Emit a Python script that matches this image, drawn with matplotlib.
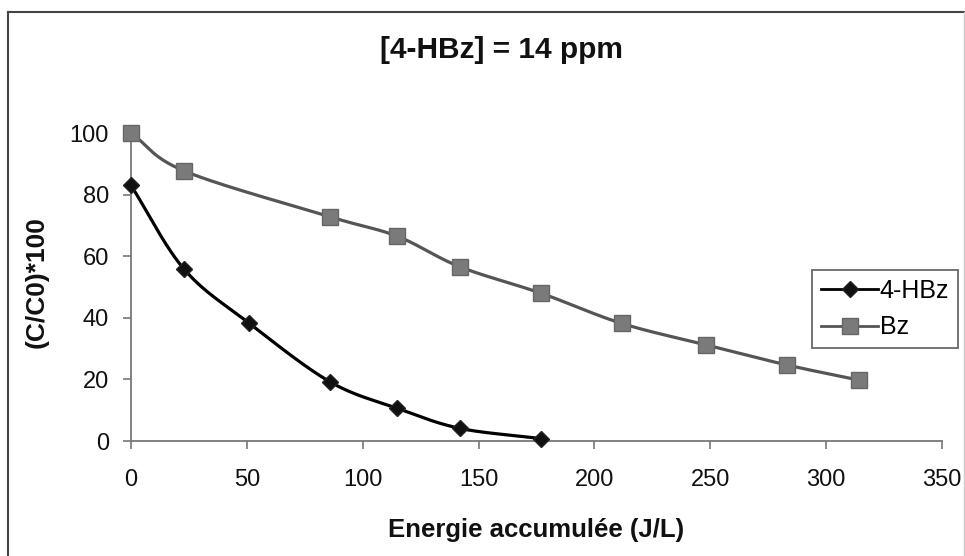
import numpy as np
import matplotlib
matplotlib.use("Agg")
import matplotlib.pyplot as plt
from matplotlib.lines import Line2D

# Data
hbz_x = [0, 22.9, 50.9, 85.9, 115, 142, 177]
hbz_y = [83, 55.8, 38.3, 19.2, 10.6, 4.1, 0.8]
bz_x = [0, 22.9, 85.9, 114.8, 141.8, 176.9, 211.7, 248.2, 283, 314]
bz_y = [100, 87.7, 72.8, 66.5, 56.6, 48, 38.2, 31.2, 24.7, 19.8]

title = "[4-HBz] = 14 ppm"
xlabel = "Energie accumulée (J/L)"
ylabel = "(C/C0)*100"
xticks = [0, 50, 100, 150, 200, 250, 300, 350]
yticks = [0, 20, 40, 60, 80, 100]


def smooth(x, y, n=30):
    """Catmull-Rom smoothing of a line through the given points (drawing style)."""
    p = np.column_stack([x, y]).astype(float)
    p = np.vstack([p[0] + (p[0] - p[1]), p, p[-1] + (p[-1] - p[-2])])
    out = []
    t = np.linspace(0, 1, n, endpoint=False)[:, None]
    for i in range(1, len(p) - 2):
        p0, p1, p2, p3 = p[i - 1], p[i], p[i + 1], p[i + 2]
        seg = 0.5 * ((2 * p1) + (-p0 + p2) * t + (2 * p0 - 5 * p1 + 4 * p2 - p3) * t ** 2
                     + (-p0 + 3 * p1 - 3 * p2 + p3) * t ** 3)
        out.append(seg)
    out.append(p[-2][None, :])
    s = np.vstack(out)
    return s[:, 0], s[:, 1]


plt.rcParams['font.family'] = ['Liberation Sans', 'DejaVu Sans']
W, H = 965, 556
fig = plt.figure(figsize=(W / 100, H / 100), dpi=100)
fig.patch.set_facecolor('white')

# Outer chart border (top and left dark, right faint)
fig.add_artist(Line2D([8 / W, 8 / W], [0, 1 - 12 / H], transform=fig.transFigure,
                      color='#444444', lw=1.5))
fig.add_artist(Line2D([8 / W, 1], [1 - 12 / H, 1 - 12 / H], transform=fig.transFigure,
                      color='#444444', lw=1.5))
fig.add_artist(Line2D([963.5 / W, 963.5 / W], [0, 1 - 12 / H], transform=fig.transFigure,
                      color='#cccccc', lw=1.0))

ax = fig.add_axes([131 / W, 1 - 441 / H, (942 - 131) / W, (441 - 133) / H])
ax.set_xlim(0, 350)
ax.set_ylim(0, 100)

sx, sy = smooth(hbz_x, hbz_y)
ax.plot(sx, sy, color='black', lw=2.3, clip_on=False, zorder=3)
ax.plot(hbz_x, hbz_y, ls='none', marker='D', ms=8, color='#111111',
        mec='#222222', clip_on=False, zorder=4)
l1, = ax.plot([], [], color='black', lw=2.0, marker='D', ms=8, mfc='#111111', mec='#222222')

sx, sy = smooth(bz_x, bz_y)
ax.plot(sx, sy, color='#555555', lw=2.3, clip_on=False, zorder=3)
ax.plot(bz_x, bz_y, ls='none', marker='s', ms=11, color='#7a7a7a',
        mec='#666666', clip_on=False, zorder=4)
l2, = ax.plot([], [], color='#555555', lw=2.0, marker='s', ms=11, mfc='#7a7a7a', mec='#666666')

for s in ['top', 'right']:
    ax.spines[s].set_visible(False)
for s in ['left', 'bottom']:
    ax.spines[s].set_color('#777777')
    ax.spines[s].set_linewidth(1.3)

ax.set_xticks(xticks)
ax.set_yticks(yticks)
ax.tick_params(axis='both', direction='out', length=6, width=1.2, color='#777777',
               labelsize=17, labelcolor='#111111')
ax.tick_params(axis='x', pad=14)
ax.tick_params(axis='y', pad=10)

fig.text(501 / W, 1 - 50 / H, title, ha='center', va='center',
         fontsize=21.5, fontweight='bold', color='#111111')
fig.text(536 / W, 1 - 530 / H, xlabel, ha='center', va='center',
         fontsize=18.5, fontweight='bold', color='#111111')
fig.text(37 / W, 1 - 282 / H, ylabel, ha='center', va='center', rotation=90,
         fontsize=19, fontweight='bold', color='#111111')

leg = ax.legend([l1, l2], ['4-HBz', 'Bz'], loc='upper left',
                bbox_to_anchor=(812 / W, 1 - 270 / H), bbox_transform=fig.transFigure,
                frameon=True, fancybox=False, edgecolor='#444444', fontsize=18,
                handlelength=2.3, handletextpad=0.05, borderpad=0.35, labelspacing=0.5,
                borderaxespad=0)
leg.get_frame().set_linewidth(1.3)

fig.savefig('out.png', dpi=100, facecolor='white')
